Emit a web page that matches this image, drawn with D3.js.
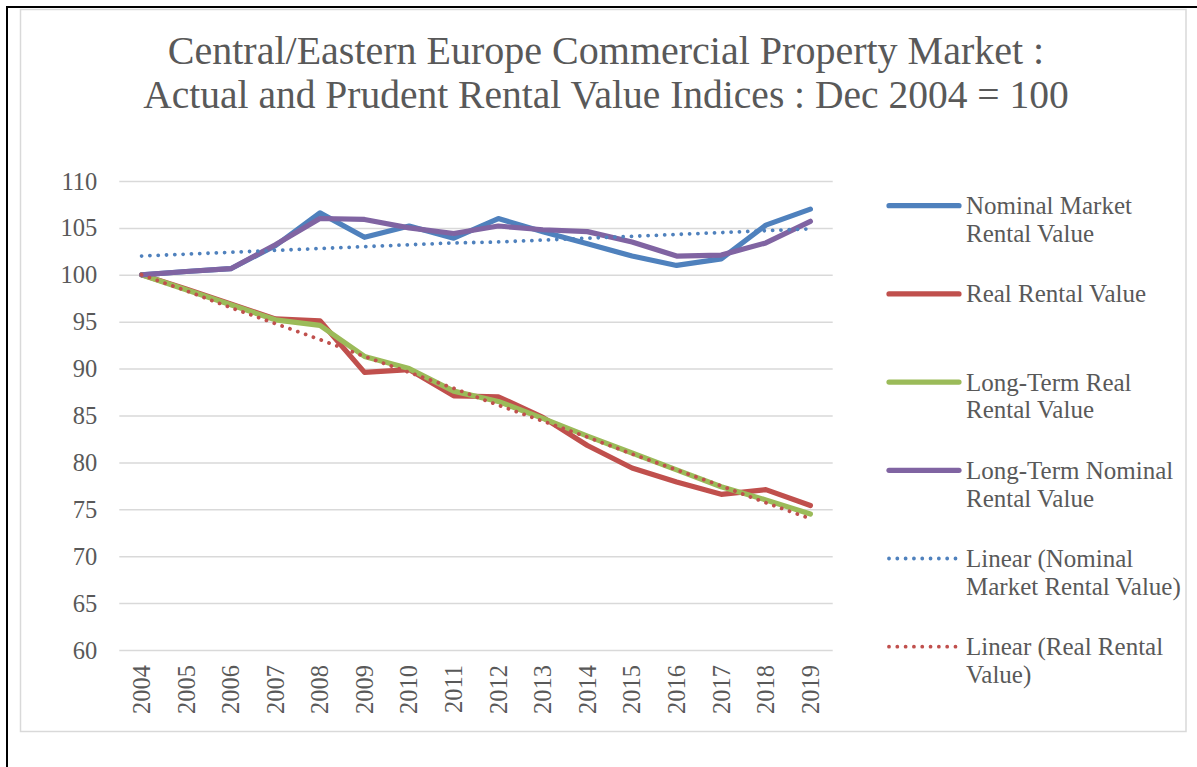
<!DOCTYPE html>
<html>
<head>
<meta charset="utf-8">
<script src="https://cdn.jsdelivr.net/npm/d3@7"></script>
<style>
  body { margin: 0; background: #fff; }
  svg text { font-family: "Liberation Serif", serif; fill: #595959; }
</style>
</head>
<body>
<div id="chart"></div>
<script>
/*********************************************
** Central/Eastern Europe rental value indices
** d3 v7
**********************************************/

var years = ["2004", "2005", "2006", "2007", "2008", "2009", "2010", "2011",
             "2012", "2013", "2014", "2015", "2016", "2017", "2018", "2019"];

var nominalMarket = [100, 100.35, 100.65, 103.1, 106.6, 104.0, 105.2, 103.9,
                     106.0, 104.6, 103.3, 102.0, 101.0, 101.7, 105.3, 107.0];
var realRental = [100, 98.5, 96.9, 95.3, 95.1, 89.6, 89.9, 87.1,
                  87.0, 84.8, 81.8, 79.4, 77.9, 76.6, 77.1, 75.4];
var longTermReal = [100, 98.4, 96.8, 95.2, 94.6, 91.3, 90.0, 87.6,
                    86.5, 84.7, 82.8, 81.0, 79.2, 77.4, 76.0, 74.5];
var longTermNominal = [100, 100.35, 100.65, 103.2, 106.0, 105.9, 105.0, 104.4,
                       105.2, 104.8, 104.6, 103.5, 102.0, 102.1, 103.4, 105.7];
var linearNominal = [102.0, 102.2, 102.4, 102.6, 102.8, 103.0, 103.2, 103.4,
                     103.5, 103.7, 103.9, 104.1, 104.3, 104.5, 104.7, 104.9];
var linearReal = [100, 98.3, 96.5, 94.8, 93.1, 91.3, 89.6, 87.9,
                  86.1, 84.4, 82.7, 80.9, 79.2, 77.5, 75.7, 74.0];

var yTicks = [60, 65, 70, 75, 80, 85, 90, 95, 100, 105, 110];

var titleLines = ["Central/Eastern Europe Commercial Property Market :",
                  "Actual and Prudent Rental Value Indices : Dec 2004 = 100"];

// legend labels, already split the way the picture wraps them
var legendLabels = [["Nominal Market", "Rental Value"],
                    ["Real Rental Value"],
                    ["Long-Term Real", "Rental Value"],
                    ["Long-Term Nominal", "Rental Value"],
                    ["Linear (Nominal", "Market Rental Value)"],
                    ["Linear (Real Rental", "Value)"]];

var width = 1197, height = 767;
var plot = {left: 119.3, right: 832.7, top: 181, bottom: 650};

var svg = d3.select("#chart")
            .append("svg")
            .attr("width", width)
            .attr("height", height);

var x = d3.scaleBand()
          .domain(years)
          .range([plot.left, plot.right]);

var y = d3.scaleLinear()
          .domain([60, 110])
          .range([plot.bottom, plot.top]);

// series in drawing order (later ones sit on top)
var series = [
  {name: legendLabels[0], values: nominalMarket, color: "#4f81bd", dotted: false},
  {name: legendLabels[1], values: realRental, color: "#c0504d", dotted: false},
  {name: legendLabels[2], values: longTermReal, color: "#9bbb59", dotted: false},
  {name: legendLabels[3], values: longTermNominal, color: "#8064a2", dotted: false},
  {name: legendLabels[4], values: linearNominal, color: "#4f81bd", dotted: true},
  {name: legendLabels[5], values: linearReal, color: "#c0504d", dotted: true}
];

/**
* styleLine
* [solid series are thick, trend lines are round dots]
**/
function styleLine(sel, s){
  sel.attr("fill", "none")
     .attr("stroke", s.color)
     .attr("stroke-linecap", "round")
     .attr("stroke-linejoin", "round");
  if (s.dotted){
    sel.attr("stroke-width", 3.8)
       .attr("stroke-dasharray", "0.01 8.3");
  }else{
    sel.attr("stroke-width", 5.2);
  }
  return sel;
}

// outer page frame
svg.append("line")
   .attr("x1", 6).attr("x2", 1197).attr("y1", 7).attr("y2", 7)
   .attr("stroke", "#000").attr("stroke-width", 2);
svg.append("line")
   .attr("x1", 7).attr("x2", 7).attr("y1", 6).attr("y2", height)
   .attr("stroke", "#000").attr("stroke-width", 2);

// chart area border
svg.append("rect")
   .attr("x", 20.5).attr("y", 9.5)
   .attr("width", 1165.5).attr("height", 722)
   .attr("fill", "#fff")
   .attr("stroke", "#d9d9d9")
   .attr("stroke-width", 1.5);

// title
var titleSizes = [40, 39.5];
svg.append("g")
   .selectAll("text")
   .data(titleLines)
   .enter()
   .append("text")
   .attr("x", 606)
   .attr("y", function(d, i){ return 64 + i*44; })
   .attr("text-anchor", "middle")
   .style("font-size", function(d, i){ return titleSizes[i] + "px"; })
   .text(function(d){ return d; });

// horizontal gridlines + y labels
var yAxis = d3.axisLeft(y)
              .tickValues(yTicks)
              .tickSize(-(plot.right - plot.left))
              .tickPadding(22)
              .tickFormat(d3.format("d"));

var gy = svg.append("g")
            .attr("transform", "translate(" + plot.left + ",0)")
            .call(yAxis);
gy.select(".domain").remove();
gy.selectAll(".tick line")
  .attr("stroke", "#d9d9d9")
  .attr("stroke-width", 1.5);
gy.selectAll(".tick text")
  .attr("dy", "0.33em")
  .style("font-size", "24.5px")
  .style("font-family", "Liberation Serif");

// category labels, rotated
var xAxis = d3.axisBottom(x).tickSize(0).tickPadding(0);
var gx = svg.append("g")
            .attr("transform", "translate(0," + plot.bottom + ")")
            .call(xAxis);
gx.select(".domain").remove();
gx.selectAll(".tick text")
  .attr("transform", "rotate(-90)")
  .attr("x", -15)
  .attr("y", 0)
  .attr("dy", "0.34em")
  .attr("text-anchor", "end")
  .style("font-size", "24.5px")
  .style("font-family", "Liberation Serif");

// series lines
var line = d3.line()
             .x(function(d, i){ return x(years[i]) + x.bandwidth()/2; })
             .y(function(d){ return y(d); });

series.forEach(function(s){
  svg.append("path")
     .datum(s.values)
     .attr("d", line)
     .call(styleLine, s);
});

// legend
var legend = svg.append("g");
series.forEach(function(s, i){
  var ly = 205.7 + i*88.2;
  legend.append("line")
        .attr("x1", 889).attr("x2", 959)
        .attr("y1", ly).attr("y2", ly)
        .call(styleLine, s);
  legend.append("g")
        .selectAll("text")
        .data(s.name)
        .enter()
        .append("text")
        .attr("x", 966)
        .attr("y", function(d, j){ return ly + 8.5 + j*27.7; })
        .style("font-size", "25px")
        .text(function(d){ return d; });
});
</script>
</body>
</html>
